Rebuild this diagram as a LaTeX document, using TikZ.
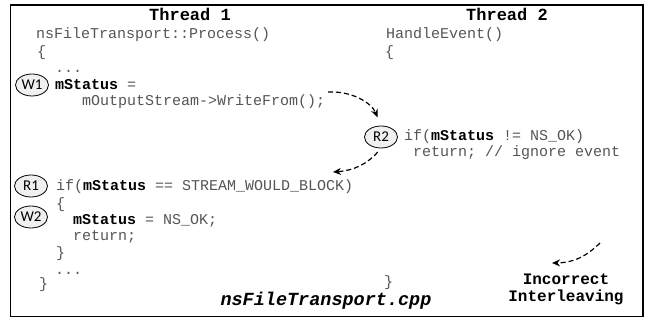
\documentclass[tikz,border=0pt]{standalone}
\usepackage{fontspec}
\setmainfont{Carlito}
\setmonofont{Liberation Mono}
\usepackage{tikz}
\usetikzlibrary{shapes.geometric, arrows.meta, positioning}
\definecolor{codegray}{RGB}{85,85,85}
\definecolor{tagfill}{RGB}{240,240,240}
\newcommand{\fld}[1]{\textcolor{black}{\bfseries #1}}

\begin{document}
\begin{tikzpicture}[
          x=1pt, y=1pt,
          code/.style={anchor=base west, inner sep=0pt, text=codegray, font=\fontsize{15}{17}\selectfont\ttfamily},
          title/.style={anchor=base, inner sep=0pt, font=\fontsize{17}{19}\selectfont\ttfamily\bfseries},
          tag/.style={ellipse, draw=black, fill=tagfill, line width=0.8pt, minimum width=33pt, minimum height=22pt, inner sep=0pt, font=\fontsize{15}{16}\selectfont},
          flow/.style={-{Stealth[length=8pt, width=7pt]}, line width=1.2pt, dash pattern=on 5pt off 3pt}
        ]
          \useasboundingbox (0,0) rectangle (648,-320);
          \draw[line width=1.2pt] (10.5,-5) rectangle (643,-316.5);

          % Thread headings
          \node[title] (h1) at (190,-21) {Thread 1};
          \node[title] (h2) at (507,-21) {Thread 2};

          % Thread 1 code
          \node[code] (p1) at (36,-39) {nsFileTransport::Process()};
          \node[code] (p2) at (37,-57) {\{};
          \node[code] (p3) at (55,-73) {...};
          \node[code] (p4) at (55,-90) {\fld{mStatus} =};
          \node[code] (wf) at (82,-106) {mOutputStream->WriteFrom();};
          \node[code] (r1l) at (56,-191) {if(\fld{mStatus} == STREAM\_WOULD\_BLOCK)};
          \node[code] (p6) at (56,-209) {\{};
          \node[code] (w2l) at (73,-225) {\fld{mStatus} = NS\_OK;};
          \node[code] (p8) at (73,-241) {return;};
          \node[code] (p9) at (56,-258) {\}};
          \node[code] (p10) at (55,-275) {...};
          \node[code] (p11) at (39,-289) {\}};

          % Thread 2 code
          \node[code] (q1) at (386,-39) {HandleEvent()};
          \node[code] (q2) at (385,-57) {\{};
          \node[code] (r2l) at (404,-141) {if(\fld{mStatus} != NS\_OK)};
          \node[code] (q4) at (413,-157) {return; // ignore event};
          \node[code] (q5) at (384,-287) {\}};

          % Access tags
          \node[tag] (w1) at (32,-85) {W1};
          \node[tag] (r2) at (381,-137) {R2};
          \node[tag] (r1) at (31,-186) {R1};
          \node[tag] (w2) at (31,-217) {W2};

          % File name and legend
          \node[anchor=base, inner sep=0pt, font=\fontsize{18.5}{20}\selectfont\ttfamily\bfseries\itshape] (fn) at (326,-306) {nsFileTransport.cpp};
          \node[align=center, inner sep=0pt, font=\fontsize{16}{17}\selectfont\ttfamily\bfseries] (ii) at (566,-289) {Incorrect\\Interleaving};

          % Interleaving order
          \coordinate (a1) at (328,-92);
          \coordinate (a2) at (333,-172);
          \coordinate (a3) at (600,-243);
          \coordinate (a4) at (552,-263);
          \draw[flow, shorten >=9pt] (a1) to[bend left=35] (r2.north);
          \draw[flow, shorten <=5pt] (r2.south) to[bend left=22] (a2);
          \draw[flow] (a3) to[bend left=22] (a4);
        \end{tikzpicture}
\end{document}
